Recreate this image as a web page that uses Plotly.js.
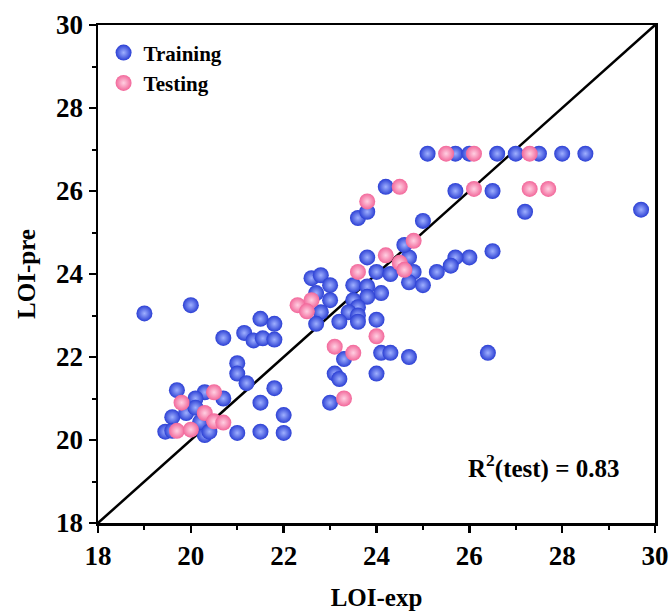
<!DOCTYPE html>
<html>
<head>
<meta charset="utf-8">
<script src="https://cdn.plot.ly/plotly-3.0.1.min.js"></script>
<style>html,body{margin:0;padding:0;background:#fff}#chart{width:669px;height:611px}</style>
</head>
<body>
<div id="chart"></div>
<script>
// Training set (LOI-exp, LOI-pre)
const trainExp = [19.0,20.0,20.7,21.15,21.5,21.8,21.35,21.55,21.8,21.0,21.0,21.2,21.8,21.5,22.0,22.0,21.5,21.0,20.7,20.3,20.1,19.7,19.6,19.9,19.45,20.3,20.1,20.2,19.6,20.4,
  22.6,22.8,23.0,23.5,23.8,24.1,23.8,23.5,23.0,22.7,22.8,23.6,23.4,23.6,23.2,23.6,24.0,22.7,
  23.8,24.0,24.3,24.7,24.8,24.7,25.0,24.6,25.0,23.6,23.8,24.2,25.7,26.5,27.2,29.7,26.5,26.0,25.7,25.6,25.3,
  24.1,24.3,24.7,24.0,23.3,23.1,23.2,23.0,26.4,
  25.1,25.7,26.0,26.6,27.0,27.5,28.0,28.5];
const trainPre = [23.05,23.25,22.46,22.58,22.92,22.8,22.4,22.45,22.42,21.85,21.6,21.37,21.25,20.9,20.6,20.17,20.2,20.17,21.0,21.15,21.0,21.2,20.55,20.65,20.2,20.12,20.78,20.43,20.22,20.2,
  23.9,23.97,23.73,23.73,23.7,23.54,23.45,23.37,23.37,23.54,23.08,23.2,23.08,23.0,22.85,22.85,22.9,22.8,
  24.4,24.05,24.0,24.4,24.05,23.8,23.73,24.7,25.28,25.35,25.5,26.1,26.0,26.0,25.5,25.55,24.55,24.4,24.4,24.2,24.05,
  22.1,22.1,22.0,21.6,21.95,21.6,21.47,20.9,22.1,
  26.9,26.9,26.9,26.9,26.9,26.9,26.9,26.9];
// Testing set
const testExp = [25.5,26.1,27.3,26.1,27.3,27.7,24.5,23.8,24.8,24.2,24.5,24.6,23.6,22.3,22.6,22.5,24.0,23.1,23.5,23.3,20.5,19.8,20.3,20.5,20.7,19.7,20.0];
const testPre = [26.9,26.9,26.9,26.05,26.05,26.05,26.1,25.75,24.8,24.45,24.27,24.1,24.05,23.25,23.37,23.1,22.5,22.25,22.1,21.0,21.15,20.9,20.65,20.45,20.42,20.22,20.25];
const diagLine = [18, 30];
const tickVals = [18,20,22,24,26,28,30];
const tickLabels = ['18','20','22','24','26','28','30'];

const FONT = 'Liberation Serif, Times New Roman, serif';

const traces = [
  {x: diagLine, y: diagLine, mode: 'lines', line: {color: '#000', width: 2.5}, showlegend: false, hoverinfo: 'skip'},
  {x: trainExp, y: trainPre, mode: 'markers', name: 'Training',
   marker: {size: 16, color: '#2b3fd4', gradient: {type: 'radial', color: '#9fb0ff'}, line: {width: 0}}},
  {x: testExp, y: testPre, mode: 'markers', name: 'Testing',
   marker: {size: 16, color: '#f2679a', gradient: {type: 'radial', color: '#ffd0e2'}, line: {width: 0}}}
];

function makeAxis(titleText, standoff) {
  return {
    range: [18, 30], showgrid: false, zeroline: false,
    showline: true, linecolor: '#000', linewidth: 2.5, mirror: true,
    ticks: 'outside', ticklen: 7, tickwidth: 2.5, tickcolor: '#000',
    minor: {dtick: 1, ticks: 'outside', ticklen: 4, tickwidth: 2, tickcolor: '#000'},
    tickmode: 'array', tickvals: tickVals, ticktext: tickLabels.map(t => '<b>' + t + '</b>'),
    tickfont: {family: FONT, size: 27, color: '#000'},
    title: {text: '<b>' + titleText + '</b>', font: {family: FONT, size: 25, color: '#000'}, standoff: standoff}
  };
}

const layout = {
  width: 669, height: 611,
  margin: {l: 98, r: 14, t: 25, b: 88},
  paper_bgcolor: '#fff', plot_bgcolor: '#fff',
  showlegend: true,
  legend: {x: 0.01, y: 0.985, xanchor: 'left', yanchor: 'top', bgcolor: 'rgba(0,0,0,0)',
    font: {family: FONT, size: 21, color: '#000', weight: 'bold'}, tracegroupgap: 2, itemwidth: 30},
  xaxis: makeAxis('LOI-exp', 20),
  yaxis: makeAxis('LOI-pre', 14),
  annotations: [{x: 27.6, y: 19.35, xref: 'x', yref: 'y', showarrow: false,
    text: 'R<sup>2</sup>(test) = 0.83', font: {family: FONT, size: 25, color: '#000', weight: 'bold'}}]
};

Plotly.newPlot('chart', traces, layout, {displayModeBar: false, staticPlot: true});
</script>
</body>
</html>
